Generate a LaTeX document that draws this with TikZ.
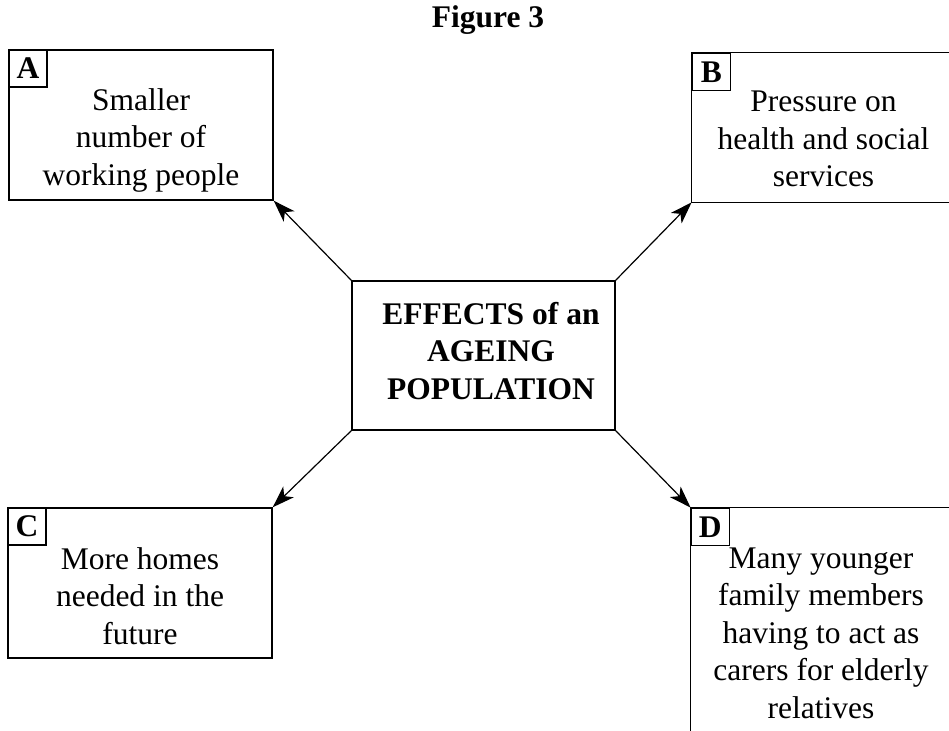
\documentclass[tikz,border=0pt]{standalone}
\usepackage{fontspec}
\setmainfont{Liberation Serif}
\usetikzlibrary{arrows.meta}
\tikzset{
  effbox/.style={draw, line width=0.7pt, rectangle, inner sep=0pt},
  openbox/.style={rectangle, inner sep=0pt},
  tagbox/.style={draw, line width=0.7pt, rectangle, inner sep=0pt, minimum width=19pt, minimum height=18.5pt, anchor=north west, font=\fontsize{15.75pt}{18.75pt}\selectfont\bfseries},
  efftext/.style={align=center, inner sep=0pt},
  effarrow/.style={line width=0.6pt, -{Stealth[length=11pt, width=7.5pt, inset=3pt]}}
}

\begin{document}
\begin{tikzpicture}[x=0.5pt, y=-0.5pt, font=\fontsize{15.75pt}{18.75pt}\selectfont]
    \useasboundingbox (0,0) rectangle (949,731);
    \clip (0,0) rectangle (949,731);
    \node[anchor=base, font=\fontsize{15.75pt}{18.75pt}\selectfont\bfseries] (title) at (488,28) {Figure 3};
    \node[effbox, minimum width=131.5pt, minimum height=74.5pt] (centre) at (483.5,355.5) {};
    \node[efftext, font=\fontsize{15.75pt}{18.75pt}\selectfont\bfseries] (centretxt) at (491,351) {EFFECTS of an\\AGEING\\POPULATION};
    \node[effbox, minimum width=132pt, minimum height=75pt] (boxA) at (141,125) {};
    \node[tagbox] (tagA) at (boxA.north west) {A};
    \node[efftext] (txtA) at (141,140) {Smaller\\number of\\working people};
    \node[openbox, minimum width=128.5pt, minimum height=74.5pt] (boxB) at (820.5,127.5) {};
    \draw[line width=0.7pt] (boxB.north east) -- (boxB.north west) -- (boxB.south west) -- (boxB.south east);
    \node[tagbox] (tagB) at (boxB.north west) {B};
    \node[efftext] (txtB) at (823.5,139) {Pressure on\\health and social\\services};
    \node[effbox, minimum width=132pt, minimum height=75pt] (boxC) at (140,583) {};
    \node[tagbox] (tagC) at (boxC.north west) {C};
    \node[efftext] (txtC) at (140,596) {More homes\\needed in the\\future};
    \node[openbox, minimum width=129pt, minimum height=112pt] (boxD) at (820,620) {};
    \draw[line width=0.7pt] (boxD.north east) -- (boxD.north west) -- (boxD.south west);
    \node[tagbox] (tagD) at (boxD.north west) {D};
    \node[efftext] (txtD) at (821,633) {Many younger\\family members\\having to act as\\carers for elderly\\relatives};
    \draw[effarrow] (centre.north west) -- (boxA.south east);
    \draw[effarrow] (centre.north east) -- (boxB.south west);
    \draw[effarrow] (centre.south west) -- (boxC.north east);
    \draw[effarrow] (centre.south east) -- (boxD.north west);
  \end{tikzpicture}
\end{document}
